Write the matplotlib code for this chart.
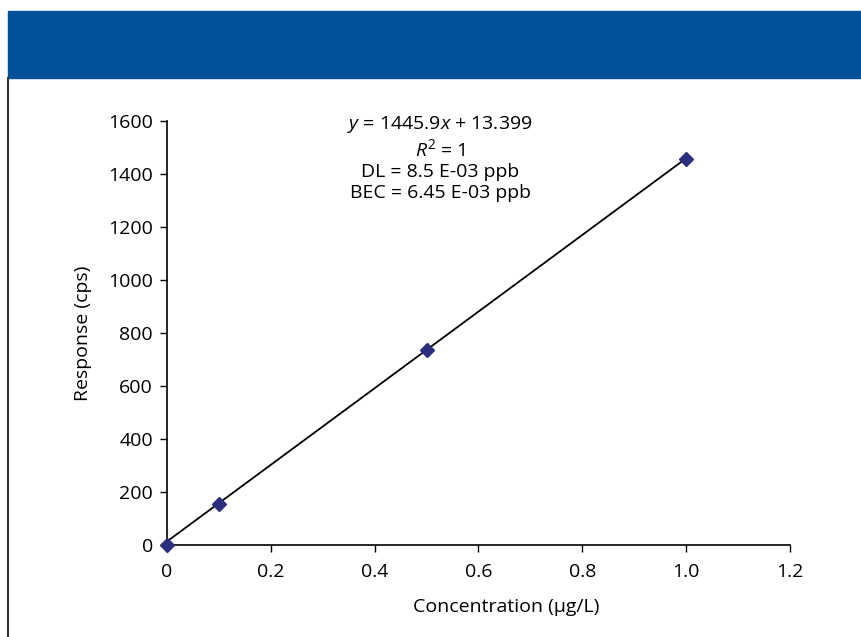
import matplotlib
matplotlib.use("Agg")
import matplotlib.pyplot as plt
from matplotlib.patches import Rectangle
from matplotlib.lines import Line2D
import numpy as np

# calibration data
conc = [0.0, 0.1, 0.5, 1.0]
response = [0, 155, 737, 1457]
slope = 1445.9
intercept = 13.399

x_ticks = [0, 0.2, 0.4, 0.6, 0.8, 1.0, 1.2]
x_tick_labels = ["0", "0.2", "0.4", "0.6", "0.8", "1.0", "1.2"]
y_ticks = [0, 200, 400, 600, 800, 1000, 1200, 1400, 1600]

plt.rcParams["font.family"] = ["Open Sans", "DejaVu Sans"]
plt.rcParams["mathtext.fontset"] = "custom"
plt.rcParams["mathtext.rm"] = "Open Sans"
plt.rcParams["mathtext.it"] = "Open Sans:italic"

fig = plt.figure(figsize=(8.62, 6.37), dpi=100)

# blue header band and left frame line
fig.patches.append(Rectangle((8 / 862, 1 - 78 / 637), 1 - 8 / 862, 67 / 637,
                             transform=fig.transFigure, color="#005199", zorder=0))
fig.lines.append(Line2D([8.5 / 862, 8.5 / 862], [0, 1 - 78 / 637],
                        transform=fig.transFigure, color="#333333", linewidth=1.5))

ax = fig.add_axes([167 / 862, 92 / 637, (790 - 167) / 862, (545 - 121) / 637])

fit_x = np.array([conc[0], conc[-1]])
ax.plot(fit_x, slope * fit_x + intercept, color="black", linewidth=1.3, zorder=2)
ax.plot(conc, response, linestyle="none", marker="D", markersize=7.5,
        color="#2b2d7d", zorder=3, clip_on=False)

ax.set_xlim(0, 1.2)
ax.set_ylim(0, 1600)
ax.set_xticks(x_ticks)
ax.set_xticklabels(x_tick_labels)
ax.set_yticks(y_ticks)
ax.tick_params(labelsize=14, length=5, width=1, colors="black", pad=8)
ax.tick_params(axis="y", pad=5)
for side in ("top", "right"):
    ax.spines[side].set_visible(False)
for side in ("left", "bottom"):
    ax.spines[side].set_linewidth(1.2)

ax.set_xlabel("Concentration (\u00b5g/L)", fontsize=14, labelpad=14)
ax.xaxis.set_label_coords(0.544, -0.125)
ax.set_ylabel("Response (cps)", fontsize=14, labelpad=12)

ax.text(0.526, 1460, "$\\it{y}$ = 1445.9$\\it{x}$ + 13.399\n$\\it{R}^{2}$ = 1\nDL = 8.5 E-03 ppb\nBEC = 6.45 E-03 ppb",
        ha="center", va="center", fontsize=14, linespacing=1.2,
        transform=ax.transData)

fig.savefig("out.png", dpi=100)
